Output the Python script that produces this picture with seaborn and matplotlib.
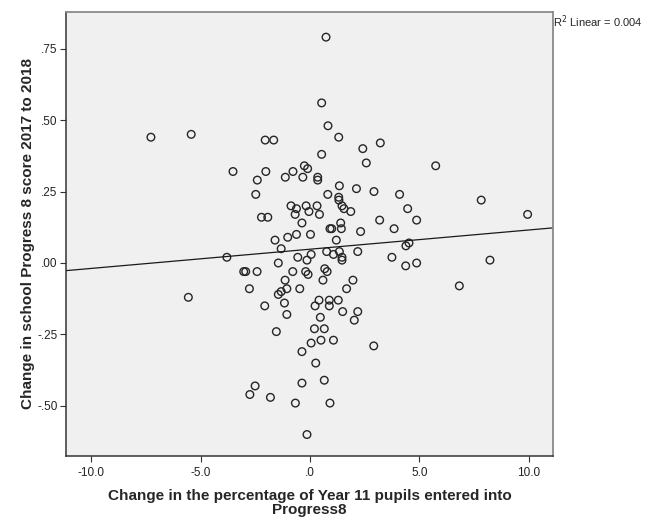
import matplotlib
matplotlib.use("Agg")
import numpy as np
import pandas as pd
import seaborn as sns
import matplotlib.pyplot as plt

# change in % of Year 11 pupils entered into Progress 8 (x) and change in P8 score (y)
x_change = [-7.27, -5.43, -2.05, -1.66, 0.53, 0.73, 0.82, 0.53, -3.52, -2.02,
            -2.41, -2.48, -1.13, -0.78, -0.33, -0.26, -0.11, 0.35, 0.35, 0.81,
            -0.87, -0.62, -0.68, -0.18, -0.05, 0.32, 0.43, -0.37, -2.22, -1.93,
            -1.60, -1.02, -0.62, 0.02, -1.32, 0.91, 0.76, -3.80, -0.56, 0.05,
            -1.45, -0.14, -3.03, -2.94, -2.42, -0.79, -0.20, -0.09, 0.67, 0.78,
            -1.14, 0.59, -2.77, -1.06, -0.47, -5.56, -1.45, -1.32, -2.07, -1.17,
            0.23, 0.41, -1.06, 0.47, -1.54, 0.20, 0.65, 0.05, 0.50, -0.37,
            0.26, 0.65, -0.37, -2.51, -2.75, -1.81, -0.67, 0.91, -0.14, 1.31,
            2.41, 3.21, 2.57, 5.74, 1.34, 2.12, 2.92, 4.09, 1.31, 1.32,
            1.46, 1.55, 1.86, 7.82, 4.46, 9.94, 4.87, 3.18, 1.40, 1.43,
            0.99, 2.31, 3.84, 1.20, 4.38, 4.52, 1.07, 1.34, 1.46, 2.18,
            3.74, 1.46, 4.37, 4.87, 8.22, 6.82, 1.96, 1.67, 0.88, 1.29,
            0.88, 1.49, 2.18, 2.02, 1.07, 2.91]
y_change = [0.44, 0.45, 0.43, 0.43, 0.56, 0.79, 0.48, 0.38, 0.32, 0.32,
            0.29, 0.24, 0.30, 0.32, 0.30, 0.34, 0.33, 0.30, 0.29, 0.24,
            0.20, 0.19, 0.17, 0.20, 0.18, 0.20, 0.17, 0.14, 0.16, 0.16,
            0.08, 0.09, 0.10, 0.10, 0.05, 0.12, 0.04, 0.02, 0.02, 0.03,
            0.00, 0.01, -0.03, -0.03, -0.03, -0.03, -0.03, -0.04, -0.02, -0.03,
            -0.06, -0.06, -0.09, -0.09, -0.09, -0.12, -0.11, -0.10, -0.15, -0.14,
            -0.15, -0.13, -0.18, -0.19, -0.24, -0.23, -0.23, -0.28, -0.27, -0.31,
            -0.35, -0.41, -0.42, -0.43, -0.46, -0.47, -0.49, -0.49, -0.60, 0.44,
            0.40, 0.42, 0.35, 0.34, 0.27, 0.26, 0.25, 0.24, 0.23, 0.22,
            0.20, 0.19, 0.18, 0.22, 0.19, 0.17, 0.15, 0.15, 0.14, 0.12,
            0.12, 0.11, 0.12, 0.08, 0.06, 0.07, 0.03, 0.04, 0.02, 0.04,
            0.02, 0.01, -0.01, 0.00, 0.01, -0.08, -0.06, -0.09, -0.13, -0.13,
            -0.15, -0.17, -0.17, -0.20, -0.27, -0.29]

xticks = [-10, -5, 0, 5, 10]
xtick_labels = ["-10.0", "-5.0", ".0", "5.0", "10.0"]
yticks = [0.75, 0.50, 0.25, 0.0, -0.25, -0.50]
ytick_labels = [".75", ".50", ".25", ".00", "-.25", "-.50"]

df = pd.DataFrame({"pct": x_change, "p8": y_change})

sns.set_style("ticks")
plt.rcParams["font.family"] = ["Liberation Sans", "DejaVu Sans"]

fig = plt.figure(figsize=(6.56, 5.21), dpi=100)
ax = fig.add_axes([0.1006, 0.1248, 0.7424, 0.8522])
ax.set_facecolor("#f0f0f0")
ax.set_xlim(-11.15, 11.1)
ax.set_ylim(-0.675, 0.878)

sns.scatterplot(data=df, x="pct", y="p8", ax=ax, marker="o", s=30,
                facecolors="none", edgecolor="#262626", linewidth=1.0)
sns.regplot(data=df, x="pct", y="p8", ax=ax, scatter=False, ci=None,
            truncate=False, line_kws=dict(color="#1a1a1a", lw=0.9))

ax.set_xticks(xticks)
ax.set_xticklabels(xtick_labels)
ax.set_yticks(yticks)
ax.set_yticklabels(ytick_labels)
ax.tick_params(direction="out", length=4, width=0.8, color="#333333",
               labelsize=8.5, labelcolor="#222222", pad=2)
ax.tick_params(axis="x", pad=4)

for side in ["left", "bottom"]:
    ax.spines[side].set_color("#333333")
    ax.spines[side].set_linewidth(1.1)
for side in ["top", "right"]:
    ax.spines[side].set_color("#8a8a8a")
    ax.spines[side].set_linewidth(1.3)

ax.set_xlabel("Change in the percentage of Year 11 pupils entered into\nProgress8",
              fontsize=11, fontweight="bold", labelpad=7, linespacing=1.05)
ax.set_ylabel("Change in school Progress 8 score 2017 to 2018",
              fontsize=11, fontweight="bold", labelpad=2)

fig.text(0.843, 0.958, "R$^2$ Linear = 0.004", fontsize=8, va="center", ha="left")

fig.savefig("out.png", dpi=100)
